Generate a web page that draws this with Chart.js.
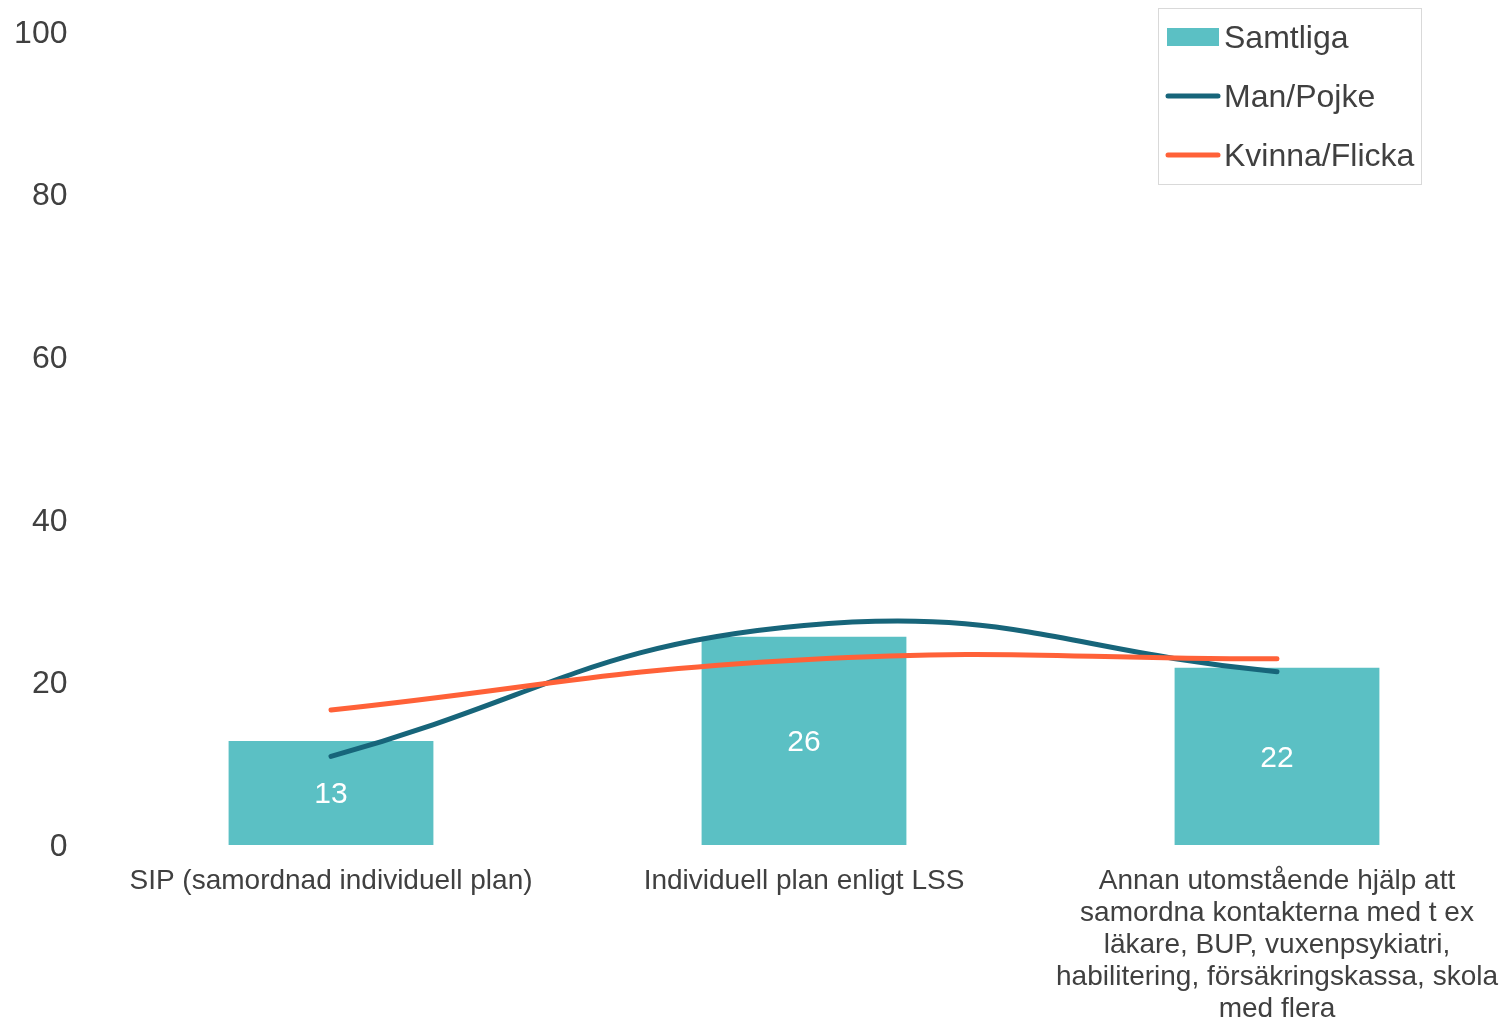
<!DOCTYPE html>
<html lang="sv">
<head>
  <meta charset="UTF-8">
  <title>Samordning</title>
  <script src="https://cdn.jsdelivr.net/npm/chart.js"></script>
  <style>
    html, body {
      margin: 0;
      padding: 0;
      background: #ffffff;
      overflow: hidden;
    }
    .chart-box {
      width: 1520px;
      height: 1020px;
    }
  </style>
</head>
<body>
  <div class="chart-box">
    <canvas id="mainChart"></canvas>
  </div>

  <script>
    // Data
    const categories = [
      ['SIP (samordnad individuell plan)'],
      ['Individuell plan enligt LSS'],
      ['Annan utomstående hjälp att', 'samordna kontakterna med t ex', 'läkare, BUP, vuxenpsykiatri,', 'habilitering, försäkringskassa, skola', 'med flera']
    ];
    const samtliga = [13, 26, 22];
    const samtligaBarHeights = [12.8, 25.6, 21.8];
    const manPojke = [10.9, 27.0, 21.3];
    const kvinnaFlicka = [16.6, 22.8, 22.9];
    const yTicks = [0, 20, 40, 60, 80, 100];

    const textColor = '#404040';
    const fontFamily = '"Liberation Sans", Arial, sans-serif';

    // white value labels inside the bars
    const barLabels = {
      id: 'barLabels',
      afterDatasetsDraw(chart) {
        const ctx = chart.ctx;
        const meta = chart.getDatasetMeta(0);
        ctx.save();
        ctx.fillStyle = '#ffffff';
        ctx.font = '30px ' + fontFamily;
        ctx.textAlign = 'center';
        ctx.textBaseline = 'middle';
        meta.data.forEach((bar, i) => {
          const mid = (bar.y + bar.base) / 2;
          ctx.fillText(String(samtliga[i]), bar.x, mid + 2);
        });
        ctx.restore();
      }
    };

    // boxed legend in the top right corner
    const boxLegend = {
      id: 'boxLegend',
      afterDraw(chart) {
        const ctx = chart.ctx;
        const left = 1158.5, top = 8.5, w = 263, h = 176;
        ctx.save();
        ctx.strokeStyle = '#d9d9d9';
        ctx.lineWidth = 1;
        ctx.strokeRect(left, top, w, h);
        ctx.font = '32px ' + fontFamily;
        ctx.textBaseline = 'middle';
        ctx.textAlign = 'left';
        const rows = [37, 96, 155];
        chart.data.datasets.forEach((ds, i) => {
          const y = rows[i];
          if (ds.type === 'bar') {
            ctx.fillStyle = ds.backgroundColor;
            ctx.fillRect(1167, y - 9, 52, 18);
          } else {
            ctx.strokeStyle = ds.borderColor;
            ctx.lineWidth = 5;
            ctx.lineCap = 'round';
            ctx.beginPath();
            ctx.moveTo(1168, y);
            ctx.lineTo(1218, y);
            ctx.stroke();
          }
          ctx.fillStyle = textColor;
          ctx.fillText(ds.label, 1224, y + 2);
        });
        ctx.restore();
      }
    };

    new Chart(document.getElementById('mainChart'), {
      data: {
        labels: categories,
        datasets: [
          {
            type: 'bar',
            label: 'Samtliga',
            data: samtligaBarHeights,
            backgroundColor: '#5bc0c4',
            barPercentage: 0.433,
            categoryPercentage: 1,
            order: 2
          },
          {
            type: 'line',
            label: 'Man/Pojke',
            data: manPojke,
            borderColor: '#17657a',
            borderWidth: 5,
            borderCapStyle: 'round',
            pointRadius: 0,
            tension: 0.45,
            order: 1
          },
          {
            type: 'line',
            label: 'Kvinna/Flicka',
            data: kvinnaFlicka,
            borderColor: '#ff6138',
            borderWidth: 5,
            borderCapStyle: 'round',
            pointRadius: 0,
            tension: 0.45,
            order: 0
          }
        ]
      },
      options: {
        responsive: true,
        maintainAspectRatio: false,
        animation: false,
        layout: {
          padding: { top: 32, right: 6.5, left: 0, bottom: 0 }
        },
        plugins: {
          legend: { display: false },
          tooltip: { enabled: false }
        },
        scales: {
          x: {
            grid: { display: false, drawTicks: false },
            border: { display: false },
            ticks: {
              color: textColor,
              font: { family: fontFamily, size: 28, lineHeight: 1.143 },
              padding: 20,
              maxRotation: 0,
              autoSkip: false
            },
            afterFit(scale) {
              scale.height = 175;
              scale.paddingLeft = 0;
              scale.paddingRight = 0;
            }
          },
          y: {
            min: 0,
            max: 100,
            grid: { display: false, drawTicks: false },
            border: { display: false },
            afterBuildTicks(scale) {
              scale.ticks = yTicks.map(v => ({ value: v }));
            },
            ticks: {
              color: textColor,
              font: { family: fontFamily, size: 32 },
              padding: 27,
              labelOffset: 2
            },
            afterFit(scale) {
              scale.width = 94.5;
              scale.paddingTop = 0;
              scale.paddingBottom = 0;
            }
          }
        }
      },
      plugins: [barLabels, boxLegend]
    });
  </script>
</body>
</html>
